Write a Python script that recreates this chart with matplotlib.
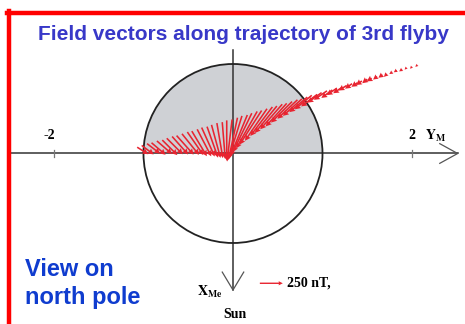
import numpy as np
import matplotlib
matplotlib.use('Agg')
import matplotlib.pyplot as plt
from matplotlib.patches import Wedge, Circle

# Trajectory of the 3rd flyby (units of Mercury radius), view on north pole
traj_y = [-1.07, -1.02, -0.96, -0.91, -0.85, -0.79, -0.74, -0.68, -0.63, -0.57,
          -0.51, -0.46, -0.40, -0.35, -0.29, -0.24, -0.18, -0.12, -0.07, -0.01,
          0.05, 0.10, 0.16, 0.21, 0.27, 0.32, 0.38, 0.44, 0.49, 0.55,
          0.60, 0.66, 0.72, 0.77, 0.83, 0.88, 0.94, 0.99, 1.05, 1.11,
          1.16, 1.22, 1.27, 1.33, 1.39, 1.44, 1.50, 1.55, 1.61, 1.67,
          1.72, 1.78, 1.83, 1.89, 1.94, 2.00, 2.06]
traj_x = [-0.07, -0.09, -0.11, -0.12, -0.14, -0.15, -0.17, -0.19, -0.20, -0.22,
          -0.24, -0.25, -0.27, -0.29, -0.30, -0.32, -0.34, -0.35, -0.37, -0.38,
          -0.40, -0.42, -0.43, -0.45, -0.47, -0.48, -0.50, -0.52, -0.53, -0.55,
          -0.56, -0.58, -0.60, -0.61, -0.63, -0.65, -0.66, -0.68, -0.70, -0.71,
          -0.73, -0.74, -0.76, -0.78, -0.79, -0.81, -0.83, -0.84, -0.86, -0.88,
          -0.89, -0.91, -0.93, -0.94, -0.96, -0.97, -0.99]

# field components in nT (B_y along Y_M, B_x along X_Me, positive toward Sun)
b_y = [120, 131, 142, 153, 164, 164, 174, 174, 185, 185,
       174, 164, 153, 142, 120, 98, 65, 33, 0, -55,
       -98, -142, -185, -207, -229, -240, -240, -240, -240, -240,
       -229, -229, -218, -207, -196, -185, -174, -153, -142, -120,
       -109, -98, -87, -76, -65, -65, -55, -55, -44, -44,
       -33, -33, -33, -33, -22, -22, -22]
b_x = [76, 98, 109, 131, 142, 164, 174, 196, 207, 229,
       251, 273, 294, 316, 338, 360, 382, 403, 436, 458,
       458, 458, 447, 425, 403, 371, 349, 316, 294, 273,
       251, 229, 207, 185, 164, 153, 131, 109, 98, 87,
       76, 65, 55, 55, 44, 44, 44, 33, 33, 33,
       33, 22, 22, 22, 22, 22, 22]

ref_field = 250  # nT, legend arrow
nt_per_rm = 975  # arrow scale

red = '#e82430'
fig = plt.figure(figsize=(4.65, 3.24), dpi=100)
ax = fig.add_axes([0, 0, 1, 1])
ax.set_xlim(-2.603, 2.592)
ax.set_ylim(1.905, -1.715)
ax.axis('off')

# planet: night side shaded
ax.add_patch(Wedge((0, 0), 1, 180, 360, facecolor='#cfd1d5', edgecolor='none', zorder=1))
ax.add_patch(Circle((0, 0), 1, facecolor='none', edgecolor='#222222', lw=1.3, zorder=3))

# axes with open arrow heads
ax.plot([-2.49, 2.51], [0, 0], color='#333333', lw=1.1, zorder=2)
ax.plot([2.31, 2.51, 2.31], [-0.11, 0, 0.11], color='#555555', lw=0.9, zorder=2)
ax.plot([0, 0], [-1.16, 1.525], color='#333333', lw=1.1, zorder=2)
ax.plot([-0.12, 0, 0.12], [1.325, 1.525, 1.325], color='#555555', lw=0.9, zorder=2)
for t in [-2, 2]:
    ax.plot([t, t], [-0.04, 0.04], color='#777777', lw=0.9, zorder=2)
    ax.text(t - 0.05 * (t < 0), -0.2, str(t), ha='center', va='center',
            fontsize=10, fontweight='bold', family='Liberation Serif')

plt.rcParams['mathtext.fontset'] = 'stix'
ax.text(2.15, -0.2, r'$\mathbf{Y_M}$', fontsize=10, ha='left', va='center')
ax.text(-0.12, 1.55, r'$\mathbf{X_{Me}}$', fontsize=10, ha='right', va='center')
ax.text(0.02, 1.80, 'Sun', fontsize=10, fontweight='bold', family='Liberation Serif',
        ha='center', va='center')

# field vectors
ax.quiver(traj_y, traj_x, b_y, b_x, angles='xy', scale_units='xy', scale=nt_per_rm,
          color=red, width=0.0034, headwidth=3.8, headlength=3.6, headaxislength=3.3,
          zorder=4)

# scale arrow
ax.quiver([0.3], [1.45], [ref_field], [0], angles='xy', scale_units='xy', scale=nt_per_rm,
          color=red, width=0.003, headwidth=3, headlength=3, headaxislength=2.8, zorder=4)
ax.text(0.6, 1.45, '250 nT,', fontsize=10, fontweight='bold', family='Liberation Serif',
        ha='left', va='center')

# title and note
fig.text(0.524, 0.892, 'Field vectors along trajectory of 3rd flyby', color='#3838c8',
         fontsize=15, fontweight='bold', family='Liberation Sans', ha='center', va='center')
fig.text(0.054, 0.125, 'View on\nnorth pole', color='#0f3ccf', fontsize=17,
         fontweight='bold', family='Liberation Sans', ha='left', va='center',
         linespacing=1.25)

# red frame
fig.add_artist(plt.Line2D([0.015, 1.0], [0.96, 0.96], color='red', lw=3.2))
fig.add_artist(plt.Line2D([0.0193, 0.0193], [0.0, 0.965], color='red', lw=3.2))

fig.savefig('out.png', dpi=100)
